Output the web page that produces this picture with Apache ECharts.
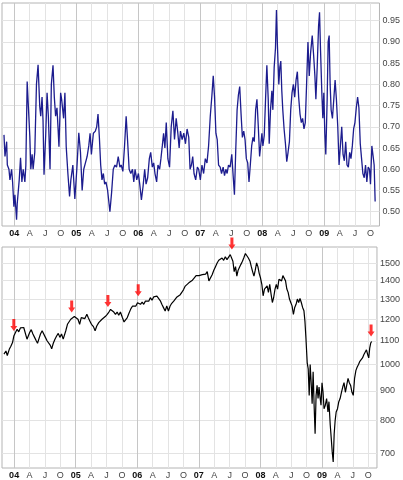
<!DOCTYPE html>
<html>
<head>
<meta charset="utf-8">
<script src="https://cdn.jsdelivr.net/npm/echarts@6/dist/echarts.min.js"></script>
<style>
  html, body { margin: 0; padding: 0; background: #fff; }
  #chart { width: 403px; height: 480px; }
</style>
</head>
<body>
<div id="chart"></div>
<script>
// dates as decimal years, weekly-ish readings
const topDates = [
  2003.835, 2003.851, 2003.878, 2003.889, 2003.915, 2003.931, 2003.958, 2003.974, 2003.995, 2004.011,
  2004.038, 2004.049, 2004.081, 2004.102, 2004.124, 2004.145, 2004.172, 2004.188, 2004.209, 2004.225,
  2004.252, 2004.268, 2004.289, 2004.305, 2004.332, 2004.359, 2004.385, 2004.412, 2004.428, 2004.449,
  2004.465, 2004.481, 2004.508, 2004.530, 2004.551, 2004.578, 2004.599, 2004.626, 2004.647, 2004.668,
  2004.690, 2004.706, 2004.722, 2004.749, 2004.765, 2004.797, 2004.818, 2004.839, 2004.866, 2004.893,
  2004.914, 2004.946, 2004.978, 2005.010, 2005.042, 2005.069, 2005.096, 2005.122, 2005.149, 2005.176,
  2005.203, 2005.224, 2005.245, 2005.277, 2005.309, 2005.331, 2005.352, 2005.374, 2005.395, 2005.416,
  2005.438, 2005.459, 2005.480, 2005.507, 2005.544, 2005.571, 2005.598, 2005.625, 2005.651, 2005.678,
  2005.705, 2005.726, 2005.753, 2005.780, 2005.806, 2005.828, 2005.854, 2005.881, 2005.908, 2005.929,
  2005.950, 2005.977, 2006.004, 2006.025, 2006.052, 2006.079, 2006.105, 2006.127, 2006.153, 2006.180,
  2006.202, 2006.228, 2006.250, 2006.271, 2006.298, 2006.319, 2006.346, 2006.367, 2006.389, 2006.410,
  2006.431, 2006.453, 2006.479, 2006.506, 2006.533, 2006.560, 2006.586, 2006.613, 2006.640, 2006.661,
  2006.682, 2006.709, 2006.736, 2006.763, 2006.789, 2006.816, 2006.837, 2006.859, 2006.880, 2006.901,
  2006.928, 2006.955, 2006.976, 2007.003, 2007.029, 2007.056, 2007.083, 2007.110, 2007.136, 2007.163,
  2007.190, 2007.211, 2007.232, 2007.254, 2007.275, 2007.297, 2007.323, 2007.345, 2007.371, 2007.393,
  2007.414, 2007.435, 2007.457, 2007.483, 2007.510, 2007.532, 2007.553, 2007.574, 2007.596, 2007.617,
  2007.638, 2007.660, 2007.681, 2007.703, 2007.724, 2007.745, 2007.767, 2007.788, 2007.809, 2007.831,
  2007.852, 2007.873, 2007.895, 2007.916, 2007.938, 2007.959, 2007.980, 2007.996, 2008.012, 2008.034,
  2008.055, 2008.076, 2008.098, 2008.114, 2008.135, 2008.157, 2008.173, 2008.194, 2008.215, 2008.231,
  2008.247, 2008.269, 2008.285, 2008.301, 2008.317, 2008.333, 2008.354, 2008.376, 2008.397, 2008.418,
  2008.440, 2008.461, 2008.482, 2008.504, 2008.525, 2008.547, 2008.568, 2008.589, 2008.611, 2008.632,
  2008.653, 2008.675, 2008.696, 2008.717, 2008.739, 2008.760, 2008.782, 2008.808, 2008.830, 2008.851,
  2008.867, 2008.888, 2008.910, 2008.926, 2008.942, 2008.963, 2008.979, 2008.995, 2009.011, 2009.027,
  2009.049, 2009.065, 2009.081, 2009.097, 2009.113, 2009.134, 2009.156, 2009.177, 2009.198, 2009.220,
  2009.241, 2009.262, 2009.284, 2009.305, 2009.326, 2009.348, 2009.369, 2009.391, 2009.412, 2009.433,
  2009.455, 2009.476, 2009.497, 2009.519, 2009.540, 2009.561, 2009.583, 2009.604, 2009.625, 2009.647,
  2009.668, 2009.689, 2009.711, 2009.732, 2009.748, 2009.770, 2009.791, 2009.807, 2009.823
];
const topValues = [
  0.681, 0.630, 0.665, 0.610, 0.600, 0.575, 0.600, 0.570, 0.512, 0.540,
  0.481, 0.520, 0.575, 0.627, 0.570, 0.600, 0.570, 0.610, 0.807, 0.810,
  0.677, 0.600, 0.635, 0.600, 0.640, 0.800, 0.846, 0.748, 0.725, 0.770,
  0.715, 0.587, 0.680, 0.780, 0.725, 0.600, 0.800, 0.845, 0.770, 0.725,
  0.745, 0.700, 0.653, 0.780, 0.765, 0.720, 0.780, 0.653, 0.590, 0.536,
  0.575, 0.610, 0.530, 0.600, 0.686, 0.640, 0.550, 0.600, 0.615, 0.630,
  0.655, 0.685, 0.635, 0.685, 0.690, 0.700, 0.730, 0.675, 0.610, 0.575,
  0.590, 0.565, 0.570, 0.550, 0.500, 0.545, 0.600, 0.610, 0.605, 0.630,
  0.605, 0.610, 0.595, 0.655, 0.725, 0.670, 0.600, 0.590, 0.600, 0.570,
  0.600, 0.575, 0.590, 0.565, 0.528, 0.560, 0.600, 0.565, 0.580, 0.625,
  0.640, 0.605, 0.615, 0.590, 0.570, 0.610, 0.600, 0.625, 0.655, 0.685,
  0.650, 0.710, 0.625, 0.605, 0.700, 0.738, 0.670, 0.720, 0.685, 0.650,
  0.690, 0.670, 0.685, 0.660, 0.695, 0.675, 0.600, 0.610, 0.630, 0.590,
  0.575, 0.605, 0.600, 0.575, 0.610, 0.590, 0.625, 0.615, 0.655, 0.725,
  0.775, 0.820, 0.770, 0.685, 0.670, 0.610, 0.605, 0.590, 0.605, 0.585,
  0.600, 0.590, 0.610, 0.605, 0.635, 0.585, 0.540, 0.645, 0.740, 0.775,
  0.795, 0.730, 0.675, 0.690, 0.670, 0.625, 0.615, 0.570, 0.610, 0.655,
  0.675, 0.665, 0.740, 0.765, 0.700, 0.630, 0.660, 0.685, 0.655, 0.680,
  0.765, 0.845, 0.765, 0.660, 0.740, 0.785, 0.740, 0.840, 0.885, 0.975,
  0.890, 0.800, 0.840, 0.855, 0.785, 0.740, 0.695, 0.660, 0.618, 0.640,
  0.665, 0.740, 0.780, 0.800, 0.770, 0.810, 0.830, 0.770, 0.730, 0.710,
  0.720, 0.695, 0.710, 0.800, 0.900, 0.820, 0.875, 0.915, 0.870, 0.820,
  0.765, 0.840, 0.937, 0.970, 0.880, 0.780, 0.720, 0.780, 0.685, 0.635,
  0.765, 0.900, 0.915, 0.800, 0.740, 0.720, 0.765, 0.810, 0.765, 0.700,
  0.610, 0.655, 0.700, 0.635, 0.620, 0.665, 0.610, 0.605, 0.640, 0.625,
  0.655, 0.695, 0.710, 0.745, 0.770, 0.745, 0.660, 0.625, 0.590, 0.580,
  0.610, 0.570, 0.605, 0.600, 0.565, 0.655, 0.630, 0.610, 0.524
];

const spxDates = [
  2003.835, 2003.867, 2003.889, 2003.921, 2003.947, 2003.974, 2003.995, 2004.022, 2004.049, 2004.075,
  2004.102, 2004.129, 2004.156, 2004.182, 2004.209, 2004.230, 2004.252, 2004.278, 2004.305, 2004.332,
  2004.359, 2004.380, 2004.401, 2004.428, 2004.455, 2004.481, 2004.508, 2004.535, 2004.562, 2004.588,
  2004.610, 2004.636, 2004.663, 2004.690, 2004.717, 2004.743, 2004.770, 2004.797, 2004.818, 2004.839,
  2004.866, 2004.893, 2004.920, 2004.946, 2004.978, 2005.010, 2005.037, 2005.064, 2005.090, 2005.117,
  2005.149, 2005.181, 2005.203, 2005.229, 2005.256, 2005.288, 2005.315, 2005.342, 2005.374, 2005.400,
  2005.427, 2005.454, 2005.480, 2005.512, 2005.539, 2005.566, 2005.593, 2005.619, 2005.646, 2005.673,
  2005.699, 2005.726, 2005.758, 2005.785, 2005.812, 2005.838, 2005.865, 2005.897, 2005.924, 2005.950,
  2005.977, 2006.004, 2006.025, 2006.052, 2006.079, 2006.105, 2006.132, 2006.159, 2006.186, 2006.212,
  2006.239, 2006.266, 2006.292, 2006.319, 2006.351, 2006.378, 2006.399, 2006.426, 2006.453, 2006.479,
  2006.506, 2006.533, 2006.560, 2006.592, 2006.618, 2006.645, 2006.672, 2006.698, 2006.725, 2006.752,
  2006.779, 2006.805, 2006.837, 2006.869, 2006.896, 2006.923, 2006.955, 2006.976, 2007.003, 2007.029,
  2007.056, 2007.083, 2007.110, 2007.136, 2007.163, 2007.190, 2007.216, 2007.243, 2007.270, 2007.297,
  2007.323, 2007.350, 2007.377, 2007.403, 2007.430, 2007.457, 2007.483, 2007.510, 2007.537, 2007.553,
  2007.574, 2007.596, 2007.617, 2007.638, 2007.660, 2007.681, 2007.708, 2007.729, 2007.756, 2007.783,
  2007.804, 2007.831, 2007.852, 2007.873, 2007.895, 2007.916, 2007.938, 2007.959, 2007.980, 2008.002,
  2008.023, 2008.044, 2008.066, 2008.087, 2008.109, 2008.130, 2008.151, 2008.173, 2008.194, 2008.215,
  2008.237, 2008.258, 2008.279, 2008.301, 2008.322, 2008.344, 2008.365, 2008.386, 2008.408, 2008.429,
  2008.450, 2008.472, 2008.493, 2008.514, 2008.536, 2008.557, 2008.579, 2008.600, 2008.621, 2008.643,
  2008.664, 2008.685, 2008.707, 2008.723, 2008.739, 2008.760, 2008.776, 2008.792, 2008.808, 2008.824,
  2008.840, 2008.856, 2008.872, 2008.888, 2008.904, 2008.920, 2008.936, 2008.952, 2008.968, 2008.984,
  2009.000, 2009.017, 2009.033, 2009.054, 2009.075, 2009.097, 2009.113, 2009.134, 2009.150, 2009.166,
  2009.182, 2009.198, 2009.214, 2009.230, 2009.252, 2009.273, 2009.294, 2009.316, 2009.337, 2009.358,
  2009.380, 2009.401, 2009.423, 2009.444, 2009.465, 2009.487, 2009.508, 2009.529, 2009.551, 2009.572,
  2009.593, 2009.615, 2009.636, 2009.658, 2009.679, 2009.700, 2009.722, 2009.743, 2009.759, 2009.775,
  2009.791, 2009.807
];
const spxValues = [
  1043, 1056, 1037, 1063, 1076, 1092, 1121, 1137, 1152, 1140,
  1158, 1150, 1160, 1152, 1107, 1100, 1137, 1150, 1130, 1115,
  1100, 1089, 1107, 1130, 1145, 1137, 1115, 1100, 1092, 1080,
  1065, 1089, 1107, 1121, 1133, 1115, 1130, 1107, 1100, 1145,
  1175, 1183, 1199, 1207, 1212, 1218, 1199, 1175, 1207, 1215,
  1202, 1223, 1207, 1191, 1175, 1164, 1145, 1167, 1183, 1191,
  1199, 1207, 1212, 1223, 1234, 1247, 1239, 1234, 1223, 1234,
  1218, 1234, 1207, 1186, 1180, 1207, 1228, 1251, 1264, 1268,
  1264, 1281, 1289, 1273, 1284, 1273, 1289, 1297, 1289, 1307,
  1294, 1311, 1301, 1315, 1323, 1289, 1273, 1256, 1239, 1264,
  1239, 1264, 1278, 1289, 1297, 1311, 1301, 1323, 1336, 1350,
  1369, 1378, 1387, 1397, 1402, 1414, 1428, 1425, 1428, 1422,
  1433, 1441, 1436, 1451, 1398, 1406, 1433, 1459, 1480, 1502,
  1518, 1522, 1532, 1518, 1540, 1522, 1532, 1553, 1553, 1512,
  1451, 1480, 1425, 1459, 1451, 1492, 1512, 1532, 1560, 1553,
  1532, 1512, 1480, 1451, 1425, 1459, 1502, 1480, 1441, 1414,
  1379, 1317, 1353, 1344, 1370, 1335, 1379, 1326, 1282, 1308,
  1353, 1379, 1353, 1407, 1414, 1398, 1428, 1425, 1398, 1353,
  1335, 1300, 1282, 1265, 1222, 1257, 1273, 1300, 1282, 1303,
  1282, 1257, 1240, 1189, 1112, 1007, 983, 884, 1000, 930,
  855, 972, 850, 758, 884, 920, 873, 914, 878, 850,
  930, 895, 838, 850, 873, 827, 862, 785, 745, 705,
  677, 758, 800, 827, 838, 862, 873, 895, 914, 930,
  895, 920, 946, 930, 920, 895, 884, 946, 977, 990,
  1000, 1013, 1007, 1027, 1040, 1047, 1061, 1040, 1027, 1068,
  1090, 1097
];

// red arrow signals on the lower panel
const signalDates = [2003.995, 2004.935, 2005.523, 2006.015, 2007.537, 2009.797];
const signalValues = [1121, 1207, 1234, 1289, 1553, 1097];

const xTickValues = [
  2004, 2004.25, 2004.5, 2004.75, 2005, 2005.25, 2005.5, 2005.75,
  2006, 2006.25, 2006.5, 2006.75, 2007, 2007.25, 2007.5, 2007.75,
  2008, 2008.25, 2008.5, 2008.75, 2009, 2009.25, 2009.5, 2009.75
];
const xTickLabels = [
  '04', 'A', 'J', 'O', '05', 'A', 'J', 'O', '06', 'A', 'J', 'O',
  '07', 'A', 'J', 'O', '08', 'A', 'J', 'O', '09', 'A', 'J', 'O'
];
const topTicks = [0.50, 0.55, 0.60, 0.65, 0.70, 0.75, 0.80, 0.85, 0.90, 0.95];
const spxTicks = [700, 800, 900, 1000, 1100, 1200, 1300, 1400, 1500];

const FONT = 'Liberation Sans, Arial, sans-serif';
const chart = echarts.init(document.getElementById('chart'));

const makeXAxis = (gridIndex) => ({
  type: 'value',
  gridIndex,
  min: 2003.803,
  max: 2009.893,
  axisLine: { show: false },
  axisTick: { show: false, customValues: xTickValues },
  axisLabel: {
    customValues: xTickValues,
    margin: 3,
    fontSize: 9,
    fontFamily: FONT,
    color: '#444',
    formatter: (v) => {
      const i = xTickValues.findIndex(t => Math.abs(t - v) < 1e-6);
      if (i < 0) return '';
      return i % 4 === 0 ? '{y|' + xTickLabels[i] + '}' : xTickLabels[i];
    },
    rich: { y: { fontWeight: 'bold', fontSize: 9, fontFamily: FONT, color: '#111' } }
  },
  splitLine: {
    show: true,
    lineStyle: { color: ['#c6c6c6', '#e3e3e3', '#e3e3e3', '#e3e3e3'], width: 1 }
  }
});

const yLabel = {
  margin: 3,
  fontSize: 9,
  fontFamily: FONT,
  color: '#444'
};

chart.setOption({
  animation: false,
  backgroundColor: '#fff',
  grid: [
    { left: 2, right: 21, top: 3, height: 223, show: true, borderColor: '#b4b4b4', borderWidth: 1 },
    { left: 2, right: 21, top: 247, height: 222, show: true, borderColor: '#b4b4b4', borderWidth: 1 }
  ],
  xAxis: [makeXAxis(0), makeXAxis(1)],
  yAxis: [
    {
      type: 'value',
      gridIndex: 0,
      position: 'right',
      min: 0.4663,
      max: 0.9918,
      axisLine: { show: false },
      axisTick: { show: false, customValues: topTicks },
      axisLabel: Object.assign({ customValues: topTicks, formatter: v => v.toFixed(2) }, yLabel),
      splitLine: { lineStyle: { color: '#e3e3e3' } }
    },
    {
      type: 'log',
      logBase: 10,
      gridIndex: 1,
      position: 'right',
      min: 661,
      max: 1601,
      axisLine: { show: false },
      axisTick: { show: false, customValues: spxTicks },
      axisLabel: Object.assign({ customValues: spxTicks, formatter: v => String(Math.round(v)) }, yLabel),
      splitLine: { lineStyle: { color: '#e3e3e3' } }
    }
  ],
  series: [
    {
      type: 'line',
      xAxisIndex: 0,
      yAxisIndex: 0,
      data: topDates.map((d, i) => [d, topValues[i]]),
      showSymbol: false,
      lineStyle: { color: '#1c1c8e', width: 1.3 }
    },
    {
      type: 'line',
      xAxisIndex: 1,
      yAxisIndex: 1,
      data: spxDates.map((d, i) => [d, spxValues[i]]),
      showSymbol: false,
      lineStyle: { color: '#000', width: 1.2 }
    },
    {
      type: 'scatter',
      xAxisIndex: 1,
      yAxisIndex: 1,
      data: signalDates.map((d, i) => [d, signalValues[i]]),
      symbol: 'path://M2,0 L5,0 L5,7 L7,7 L3.5,12 L0,7 L2,7 Z',
      symbolSize: [7, 12],
      symbolOffset: [0, -11],
      itemStyle: { color: '#ff0000' },
      z: 5
    }
  ]
});
</script>
</body>
</html>
